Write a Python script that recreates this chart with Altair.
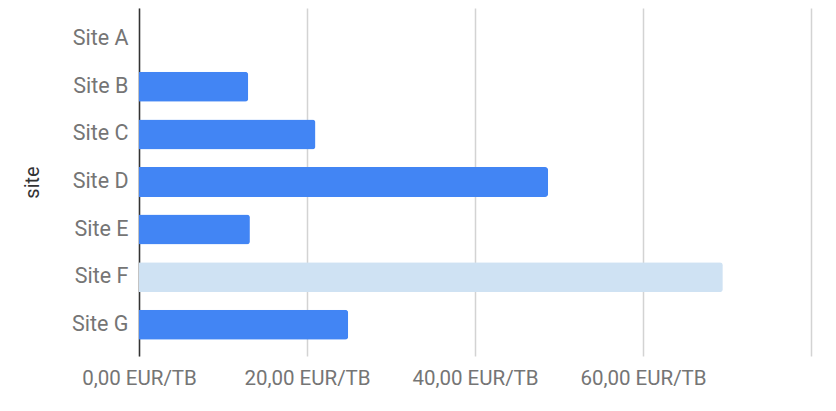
import altair as alt
import pandas as pd

sites = ["Site A", "Site B", "Site C", "Site D", "Site E", "Site F", "Site G"]
costs = [0.0, 13.0, 21.0, 48.7, 13.2, 69.5, 24.9]
highlighted = "Site F"
x_ticks = [0, 20, 40, 60, 80]

df = pd.DataFrame({"site": sites, "cost": costs})

bars = alt.Chart(df).mark_bar(cornerRadiusEnd=3).encode(
    x=alt.X("cost:Q",
            scale=alt.Scale(domain=[0, 80], nice=False),
            axis=alt.Axis(values=x_ticks, title=None, domain=False, ticks=False,
                          grid=True, gridColor="#d3d3d3", gridWidth=1.5,
                          labelFlush=False,
                          labelExpr="datum.value == 80 ? '' : replace(format(datum.value, '.2f'), '.', ',') + ' EUR/TB'",
                          labelFont="Roboto", labelFontSize=20.5, labelColor="#757575",
                          labelPadding=12)),
    y=alt.Y("site:N", sort=sites,
            scale=alt.Scale(paddingInner=0.37, paddingOuter=0.34),
            axis=alt.Axis(title="site", domain=True, domainColor="#333333", domainWidth=1.5,
                          ticks=False, grid=False,
                          labelFont="Roboto", labelFontSize=21.5, labelColor="#757575",
                          labelPadding=11,
                          titleFont="Roboto", titleFontSize=20, titleFontWeight="normal",
                          titleColor="#333333", titleAngle=270, titleAlign="center",
                          titleBaseline="middle", titleX=-107, titleY=174)),
    color=alt.condition(alt.datum.site == highlighted, alt.value("#cfe2f3"), alt.value("#4285f4")),
)

chart = bars.properties(
    width=672, height=348,
    background="white",
    autosize=alt.AutoSizeParams(type="none"),
    padding={"left": 131, "top": 0, "right": 17, "bottom": 47},
).configure_view(stroke=None)

chart.save("out.html", embed_options={"renderer": "svg", "actions": False})
